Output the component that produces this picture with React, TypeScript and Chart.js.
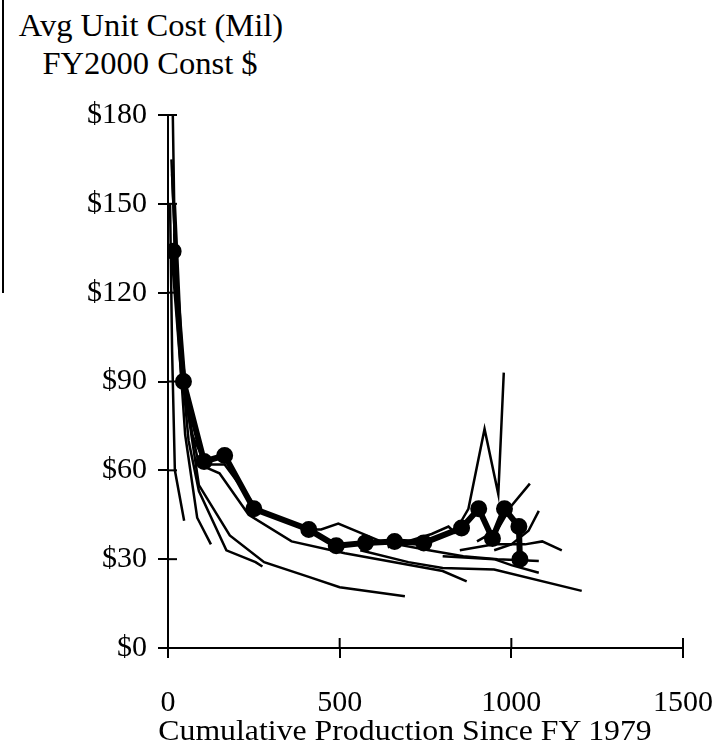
import React, { useEffect, useRef } from "react";
import { Chart, registerables } from "chart.js";

Chart.register(...registerables);

// Cumulative production (x) vs average unit cost, $M FY2000 (y)
const thickProgram: [number, number][] = [
  [15, 134], [45, 90], [105, 63], [165, 65], [250, 47], [410, 40], [490, 34.5],
  [575, 35.5], [660, 36], [745, 35.5], [855, 40.5], [905, 47], [945, 37],
  [980, 47], [1022, 41], [1025, 30],
];

const programA: [number, number][] = [[14, 180], [22, 120], [50, 72], [85, 44], [125, 35]];
const programB: [number, number][] = [[6, 150], [12, 100], [20, 60], [47, 43]];
const programC: [number, number][] = [
  [10, 165], [25, 125], [45, 90], [90, 55], [180, 38], [280, 29], [410, 24], [500, 20.5], [690, 17.5],
];
const programD: [number, number][] = [
  [12, 160], [30, 110], [60, 78], [90, 62], [150, 59], [235, 45], [360, 36], [515, 32], [800, 26], [870, 22.5],
];
const programE: [number, number][] = [
  [18, 140], [40, 95], [60, 70], [90, 53], [170, 33], [255, 29], [275, 27.5],
];
const programF: [number, number][] = [
  [20, 150], [40, 100], [70, 72], [110, 62], [165, 62], [260, 47], [400, 40], [446, 40],
  [496, 42], [620, 36], [760, 33], [860, 31], [960, 30], [1080, 29.4],
];
const programG: [number, number][] = [
  [640, 34], [768, 38.5], [817, 41], [835, 39], [875, 47], [922, 74], [962, 52], [978, 93],
];
const programH: [number, number][] = [[900, 36], [960, 40], [1000, 48], [1054, 55.5]];
const programI: [number, number][] = [[950, 33], [1000, 35], [1050, 39.6], [1080, 46.3]];
const programJ: [number, number][] = [[850, 33], [950, 35], [1040, 35], [1090, 36], [1147, 33]];
const programK: [number, number][] = [[560, 33], [700, 29], [800, 27], [950, 26.5], [1205, 19.3]];
const programL: [number, number][] = [[800, 31], [950, 30], [1000, 28], [1080, 25.4]];

const thinPrograms = [
  programA, programB, programC, programD, programE, programF,
  programG, programH, programI, programJ, programK, programL,
];

const yTickStep = 30;
const yMax = 180;
const xTickStep = 500;
const xMax = 1500;

const serif = "'Liberation Serif', 'Times New Roman', serif";

const innerTicks = {
  id: "innerTicks",
  afterDraw(chart: any) {
    const { ctx, chartArea, scales } = chart;
    const x = scales.x;
    const y = scales.y;
    ctx.save();
    ctx.strokeStyle = "#000";
    ctx.lineWidth = 2;
    y.ticks.forEach((t: any) => {
      const py = y.getPixelForValue(t.value);
      ctx.beginPath();
      ctx.moveTo(chartArea.left, py);
      ctx.lineTo(chartArea.left + 9, py);
      ctx.stroke();
    });
    x.ticks.forEach((t: any) => {
      const px = x.getPixelForValue(t.value);
      ctx.beginPath();
      ctx.moveTo(px, chartArea.bottom);
      ctx.lineTo(px, chartArea.bottom - 10);
      ctx.stroke();
    });
    ctx.restore();
  },
};

const textStyle = (left: number, top: number, size: number, sx: number): React.CSSProperties => ({
  position: "absolute",
  left,
  top,
  transform: `translateX(-50%) scaleX(${sx})`,
  fontSize: size,
  lineHeight: 1,
  whiteSpace: "nowrap",
});

export default function App() {
  const ref = useRef<HTMLCanvasElement | null>(null);

  useEffect(() => {
    if (!ref.current) return;
    const toPts = (arr: [number, number][]) => arr.map(([x, y]) => ({ x, y }));
    const datasets: any[] = thinPrograms.map((p) => ({
      data: toPts(p),
      borderColor: "#000",
      borderWidth: 2.5,
      pointRadius: 0,
      fill: false,
      tension: 0,
    }));
    datasets.push({
      data: toPts(thickProgram),
      borderColor: "#000",
      backgroundColor: "#000",
      borderWidth: 6,
      pointRadius: 5.5,
      pointBackgroundColor: "#000",
      pointBorderColor: "#000",
      fill: false,
      tension: 0,
    });

    const chart = new Chart(ref.current, {
      type: "line",
      data: { datasets },
      options: {
        animation: false,
        responsive: false,
        layout: { padding: { top: 115, right: 34, left: 0, bottom: 0 } },
        plugins: { legend: { display: false }, tooltip: { enabled: false } },
        scales: {
          x: {
            type: "linear",
            min: 0,
            max: xMax,
            afterFit: (s: any) => { s.height = 106; s.paddingLeft = 0; s.paddingRight = 0; },
            grid: { drawOnChartArea: false, drawTicks: true, tickLength: 10, color: "#000", lineWidth: 2 },
            border: { display: true, color: "#000", width: 2 },
            ticks: {
              stepSize: xTickStep,
              padding: 27,
              color: "#000",
              font: { family: serif, size: 30 },
              maxRotation: 0,
              callback: (v: any) => String(v),
            },
          },
          y: {
            min: 0,
            max: yMax,
            afterFit: (s: any) => { s.width = 168; },
            grid: { drawOnChartArea: false, drawTicks: true, tickLength: 10, color: "#000", lineWidth: 2 },
            border: { display: true, color: "#000", width: 2 },
            ticks: {
              stepSize: yTickStep,
              padding: 11,
              color: "#000",
              font: { family: serif, size: 30 },
              callback: (v: any) => "$" + v,
            },
          },
        },
      },
      plugins: [innerTicks],
    });
    return () => chart.destroy();
  }, []);

  return (
    <div style={{ position: "absolute", left: 0, top: 0, width: 717, height: 754, overflow: "hidden", background: "#fff", fontFamily: serif, color: "#000" }}>
      <div style={{ position: "absolute", left: 2, top: 0, width: 2, height: 293, background: "#000" }} />
      <div style={textStyle(151, 10, 31, 1.05)}>Avg Unit Cost (Mil)</div>
      <div style={textStyle(150, 48, 31, 1.05)}>FY2000 Const $</div>
      <canvas ref={ref} width={717} height={754} style={{ position: "absolute", left: 0, top: 0 }} />
      <div style={textStyle(405, 715, 30, 1.06)}>Cumulative Production Since FY 1979</div>
    </div>
  );
}
